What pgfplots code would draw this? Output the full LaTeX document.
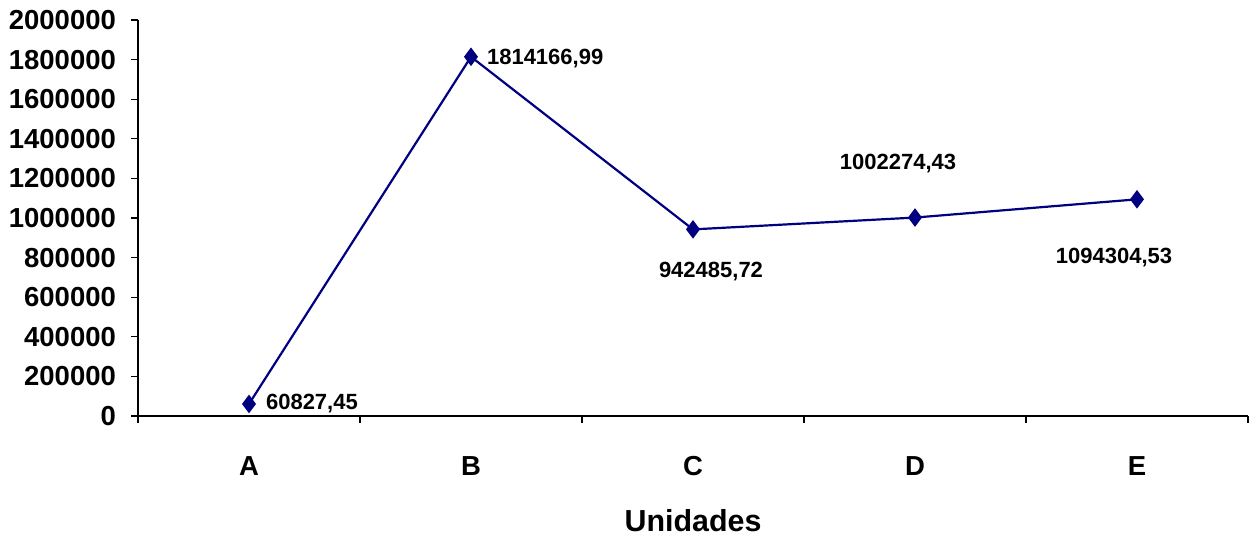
\documentclass[border=0pt]{standalone}
\usepackage{pgfplots}
\pgfplotsset{compat=1.18}
\usepackage{fontspec}
\setmainfont{Liberation Sans}
\definecolor{navyline}{RGB}{0,0,128}
\begin{document}
\begin{tikzpicture}
\begin{axis}[
  at={(0,0)}, anchor=south west,
  scale only axis,
  width=555pt, height=198pt,
  xmin=-0.5, xmax=4.5,
  ymin=0, ymax=2000000,
  axis x line*=bottom,
  axis y line*=left,
  axis line style={black, line width=0.6pt},
  xtick={-0.5,0.5,1.5,2.5,3.5,4.5},
  xticklabels={},
  extra x ticks={0,1,2,3,4},
  extra x tick labels={A,B,C,D,E},
  extra x tick style={major tick length=0pt, tick style={draw=none}},
  ytick={0,200000,...,2000000},
  tick style={black, line width=0.6pt},
  major tick length=3.5pt,
  tick align=outside,
  scaled y ticks=false,
  /pgf/number format/assume math mode=true,
  yticklabel style={/pgf/number format/fixed, /pgf/number format/1000 sep={}, font=\fontsize{13.75pt}{16pt}\selectfont\bfseries, xshift=-4pt},
  xticklabel style={font=\fontsize{13.75pt}{16pt}\selectfont\bfseries, anchor=base, yshift=-29.5pt},
  xlabel={Unidades},
  x label style={at={(axis description cs:0.5,0)}, anchor=center, yshift=-52.5pt, font=\fontsize{15.2pt}{18pt}\selectfont\bfseries},
  clip=false,
]
\addplot[navyline, line width=1.1pt, mark=diamond*, mark size=3.75pt, mark options={fill=navyline, draw=navyline}]
  coordinates {(0,60827.45) (1,1814166.99) (2,942485.72) (3,1002274.43) (4,1094304.53)};
\begin{scope}[font=\fontsize{11pt}{13pt}\selectfont\bfseries]
\node[anchor=west, xshift=5pt] at (axis cs:0,60827.45) {60827,45};
\node[anchor=west, xshift=4.5pt, yshift=-1pt] at (axis cs:1,1814166.99) {1814166,99};
\node[xshift=9pt, yshift=-21pt] at (axis cs:2,942485.72) {942485,72};
\node[xshift=-8.5pt, yshift=27pt] at (axis cs:3,1002274.43) {1002274,43};
\node[xshift=-11.5pt, yshift=-29pt] at (axis cs:4,1094304.53) {1094304,53};
\end{scope}
\end{axis}
\pgfresetboundingbox
\path[use as bounding box] (-69pt,-62.5pt) rectangle (557pt,208pt);
\end{tikzpicture}
\end{document}
